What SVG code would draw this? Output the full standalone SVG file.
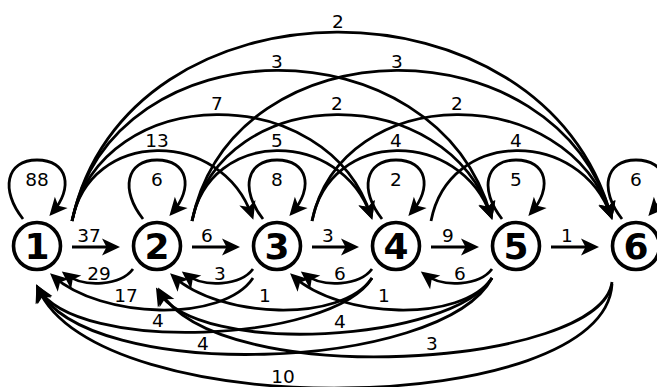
<svg xmlns="http://www.w3.org/2000/svg" width="657" height="387" viewBox="0 0 657 387">
<defs>
<marker id="ah" markerUnits="userSpaceOnUse" markerWidth="30" markerHeight="30" refX="0" refY="0" viewBox="-15 -15 30 30" orient="auto" overflow="visible">
<path d="M4,0 L-14,-8.5 L-9.5,0 L-14,8.5 Z" fill="#000"/>
</marker>
</defs>
<style>
.e{fill:none;stroke:#000;stroke-width:2.8;marker-end:url(#ah)}
.n circle{fill:#fff;stroke:#000;stroke-width:3.6}
.n text{font-family:"DejaVu Sans",Verdana,sans-serif;font-weight:bold;font-size:36px;text-anchor:middle}
.l{font-family:"DejaVu Sans",Verdana,sans-serif;font-size:18.5px;text-anchor:middle;fill:#000}
</style>
<rect width="657" height="387" fill="#fff"/>
<g id="connectors">
<path class="e" d="M23,219 C0,190 6,160 37,160 C68,160 74,188 52,213"/>
<path class="e" d="M143,219 C120,190 126,160 157,160 C188,160 194,188 172,213"/>
<path class="e" d="M263,219 C240,190 246,160 277,160 C308,160 314,188 292,213"/>
<path class="e" d="M382,219 C359,190 365,160 396,160 C427,160 433,188 411,213"/>
<path class="e" d="M502,219 C479,190 485,160 516,160 C547,160 553,188 531,213"/>
<path class="e" d="M622,219 C599,190 605,160 636,160 C667,160 673,188 651,213"/>
<path class="e" d="M72,247 L116,247"/>
<path class="e" d="M192,247 L236,247"/>
<path class="e" d="M312,247 L355,247"/>
<path class="e" d="M431,247 L475,247"/>
<path class="e" d="M551,247 L595,247"/>
<path class="e" d="M72,221 C90,128 221,128 252,216"/>
<path class="e" d="M192,221 C210,128 340,128 371,216"/>
<path class="e" d="M312,221 C330,128 460,128 491,216"/>
<path class="e" d="M431,221 C449,128 580,128 611,216"/>
<path class="e" d="M72,221 C102,80 328,80 371,216"/>
<path class="e" d="M192,221 C222,80 448,80 491,216"/>
<path class="e" d="M312,221 C342,80 568,80 611,216"/>
<path class="e" d="M72,221 C114,21 436,21 491,216"/>
<path class="e" d="M192,221 C234,21 556,21 611,216"/>
<path class="e" d="M72,221 C126,-30 544,-30 611,216"/>
<path class="e" d="M133,269 C121,285 85,289 65,274"/>
<path class="e" d="M253,269 C241,285 205,289 185,274"/>
<path class="e" d="M372,269 C360,285 324,289 304,274"/>
<path class="e" d="M492,269 C480,285 444,289 424,274"/>
<path class="e" d="M253,278 C223,323 101,319 53,276"/>
<path class="e" d="M372,278 C342,323 220,319 173,276"/>
<path class="e" d="M492,278 C462,323 340,319 293,276"/>
<path class="e" d="M372,278 C332,343 76,354 38,288"/>
<path class="e" d="M492,278 C452,342 198,358 158,291"/>
<path class="e" d="M492,278 C442,372 86,384 38,288"/>
<path class="e" d="M612,282 C602,367 218,392 160,291"/>
<path class="e" d="M612,284 C605,418 96,426 38,288"/>
</g>
<g id="labels">
<text class="l" x="37" y="186">88</text>
<text class="l" x="157" y="186">6</text>
<text class="l" x="277" y="186">8</text>
<text class="l" x="396" y="186">2</text>
<text class="l" x="516" y="186">5</text>
<text class="l" x="636" y="186">6</text>
<text class="l" x="89" y="242">37</text>
<text class="l" x="207" y="242">6</text>
<text class="l" x="328" y="242">3</text>
<text class="l" x="448" y="242">9</text>
<text class="l" x="567" y="242">1</text>
<text class="l" x="157" y="147">13</text>
<text class="l" x="277" y="147">5</text>
<text class="l" x="396" y="147">4</text>
<text class="l" x="516" y="147">4</text>
<text class="l" x="217" y="110">7</text>
<text class="l" x="337" y="110">2</text>
<text class="l" x="457" y="110">2</text>
<text class="l" x="277" y="68">3</text>
<text class="l" x="397" y="68">3</text>
<text class="l" x="338" y="28">2</text>
<text class="l" x="99" y="280">29</text>
<text class="l" x="220" y="280">3</text>
<text class="l" x="340" y="280">6</text>
<text class="l" x="460" y="280">6</text>
<text class="l" x="126" y="302">17</text>
<text class="l" x="265" y="302">1</text>
<text class="l" x="384" y="302">1</text>
<text class="l" x="158" y="327">4</text>
<text class="l" x="340" y="328">4</text>
<text class="l" x="203" y="350">4</text>
<text class="l" x="432" y="350">3</text>
<text class="l" x="283" y="383">10</text>
</g>
<g id="node1" class="n"><circle cx="37" cy="246" r="23.5"/><text x="37" y="259">1</text></g>
<g id="node2" class="n"><circle cx="157" cy="246" r="23.5"/><text x="157" y="259">2</text></g>
<g id="node3" class="n"><circle cx="277" cy="246" r="23.5"/><text x="277" y="259">3</text></g>
<g id="node4" class="n"><circle cx="396" cy="246" r="23.5"/><text x="396" y="259">4</text></g>
<g id="node5" class="n"><circle cx="516" cy="246" r="23.5"/><text x="516" y="259">5</text></g>
<g id="node6" class="n"><circle cx="636" cy="246" r="23.5"/><text x="636" y="259">6</text></g>
</svg>
